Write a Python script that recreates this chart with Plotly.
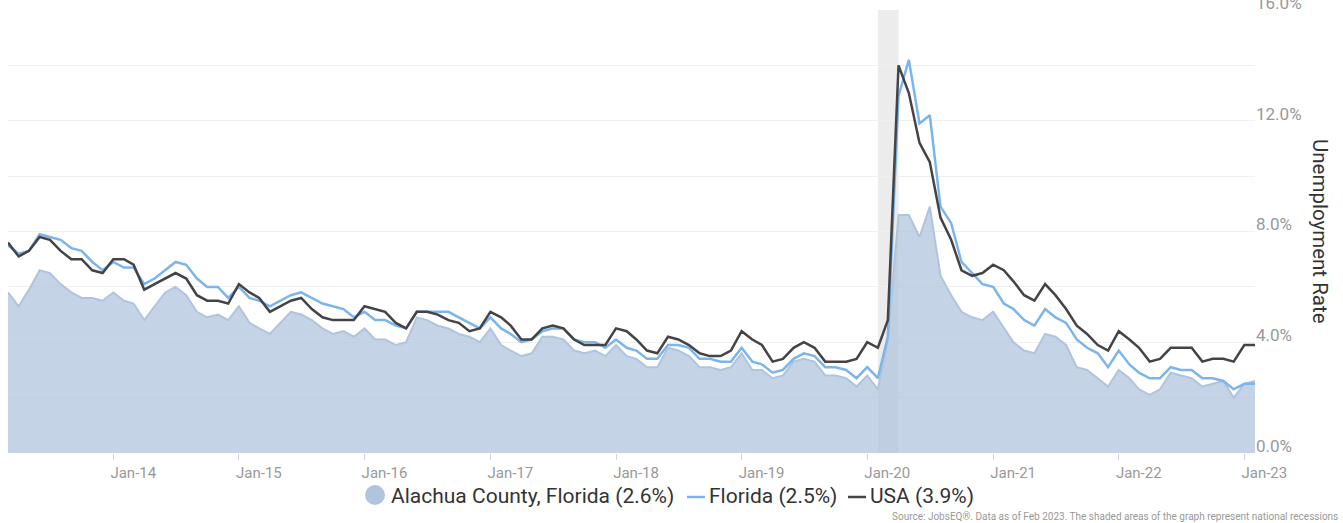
import pandas as pd
import plotly.graph_objects as go

# ---- data (monthly, Mar 2013 - Feb 2023) ----
start_month = "2013-03-01"
n_months = 120
months = pd.date_range(start_month, periods=n_months, freq="MS")

alachua = [
    5.8, 5.3, 5.9, 6.6, 6.5, 6.1, 5.8, 5.6, 5.6, 5.5,
    5.8, 5.5, 5.4, 4.8, 5.3, 5.8, 6.0, 5.7, 5.1, 4.9, 5.0, 4.8,
    5.3, 4.7, 4.5, 4.3, 4.7, 5.1, 5.0, 4.8, 4.5, 4.3, 4.4, 4.2,
    4.5, 4.1, 4.1, 3.9, 4.0, 4.9, 4.8, 4.6, 4.5, 4.3, 4.2, 4.0,
    4.5, 3.9, 3.7, 3.5, 3.6, 4.2, 4.2, 4.1, 3.7, 3.6, 3.7, 3.5,
    3.9, 3.5, 3.4, 3.1, 3.1, 3.8, 3.7, 3.5, 3.1, 3.1, 3.0, 3.1,
    3.6, 3.0, 3.0, 2.7, 2.8, 3.3, 3.4, 3.3, 2.8, 2.8, 2.7, 2.4,
    2.8, 2.3, 4.1, 8.6, 8.6, 7.8, 8.9, 6.4, 5.7, 5.1, 4.9, 4.8,
    5.1, 4.5, 4.0, 3.7, 3.6, 4.3, 4.2, 3.9, 3.1, 3.0, 2.7, 2.4,
    3.0, 2.7, 2.3, 2.1, 2.3, 2.9, 2.8, 2.7, 2.4, 2.5, 2.6, 2.0,
    2.5, 2.6,
]
florida = [
    7.5, 7.2, 7.3, 7.9, 7.8, 7.7, 7.4, 7.3, 6.9, 6.6,
    6.9, 6.7, 6.7, 6.1, 6.3, 6.6, 6.9, 6.8, 6.3, 6.0, 6.0, 5.6,
    6.0, 5.6, 5.5, 5.3, 5.5, 5.7, 5.8, 5.6, 5.4, 5.3, 5.2, 4.9,
    5.1, 4.8, 4.8, 4.6, 4.5, 5.1, 5.1, 5.1, 5.1, 4.9, 4.7, 4.5,
    4.9, 4.5, 4.3, 4.0, 4.1, 4.4, 4.5, 4.5, 4.1, 4.0, 4.0, 3.8,
    4.1, 3.8, 3.7, 3.4, 3.4, 3.9, 3.9, 3.8, 3.4, 3.4, 3.3, 3.3,
    3.8, 3.3, 3.2, 2.9, 3.0, 3.4, 3.6, 3.5, 3.1, 3.1, 3.0, 2.7,
    3.1, 2.7, 4.2, 12.9, 14.2, 11.9, 12.2, 8.9, 8.3, 6.9, 6.5, 6.1,
    6.0, 5.4, 5.2, 4.8, 4.6, 5.2, 4.9, 4.7, 4.1, 3.8, 3.6, 3.1,
    3.7, 3.2, 2.9, 2.7, 2.7, 3.1, 3.0, 3.0, 2.7, 2.7, 2.6, 2.3,
    2.5, 2.5,
]
usa = [
    7.6, 7.1, 7.3, 7.8, 7.7, 7.3, 7.0, 7.0, 6.6, 6.5,
    7.0, 7.0, 6.8, 5.9, 6.1, 6.3, 6.5, 6.3, 5.7, 5.5, 5.5, 5.4,
    6.1, 5.8, 5.6, 5.1, 5.3, 5.5, 5.6, 5.2, 4.9, 4.8, 4.8, 4.8,
    5.3, 5.2, 5.1, 4.7, 4.5, 5.1, 5.1, 5.0, 4.8, 4.7, 4.4, 4.5,
    5.1, 4.9, 4.6, 4.1, 4.1, 4.5, 4.6, 4.5, 4.1, 3.9, 3.9, 3.9,
    4.5, 4.4, 4.1, 3.7, 3.6, 4.2, 4.1, 3.9, 3.6, 3.5, 3.5, 3.7,
    4.4, 4.1, 3.9, 3.3, 3.4, 3.8, 4.0, 3.8, 3.3, 3.3, 3.3, 3.4,
    4.0, 3.8, 4.8, 14.0, 13.0, 11.2, 10.5, 8.5, 7.7, 6.6, 6.4, 6.5,
    6.8, 6.6, 6.2, 5.7, 5.5, 6.1, 5.7, 5.2, 4.6, 4.3, 3.9, 3.7,
    4.4, 4.1, 3.8, 3.3, 3.4, 3.8, 3.8, 3.8, 3.3, 3.4, 3.4, 3.3,
    3.9, 3.9,
]
recession_start = "2020-02-01"
recession_end = "2020-04-01"
y_ticks = [0, 4, 8, 12, 16]

names = [
    f"Alachua County, Florida ({alachua[-1]:.1f}%)",
    f"Florida ({florida[-1]:.1f}%)",
    f"USA ({usa[-1]:.1f}%)",
]

FONT = "Roboto"
AREA_LINE = "#b0c4de"
AREA_FILL = "rgba(176,196,222,0.75)"
FL_COLOR = "#7cb5ec"
US_COLOR = "#434348"

fig = go.Figure()
fig.add_trace(go.Scatter(x=months, y=alachua, mode="lines", fill="tozeroy",
                         line=dict(color=AREA_LINE, width=2), fillcolor=AREA_FILL,
                         name=names[0], showlegend=False))
fig.add_trace(go.Scatter(x=months, y=florida, mode="lines",
                         line=dict(color=FL_COLOR, width=2.5), name=names[1], showlegend=False))
fig.add_trace(go.Scatter(x=months, y=usa, mode="lines",
                         line=dict(color=US_COLOR, width=2.5), name=names[2], showlegend=False))

fig.add_vrect(x0=recession_start, x1=recession_end, fillcolor="#ececec",
              line_width=0, layer="below")

W, H = 1343, 523
PL, PR, PT, PB = 8, 1255, 10, 453          # plot area in pixels
ml, mr, mt, mb = PL, W - PR, PT, H - PB

def px(x):
    return (x - PL) / (PR - PL)

def py(y):
    return (PB - y) / (PB - PT)

# custom legend
leg_y = 496
fig.add_shape(type="circle", xref="paper", yref="paper",
              x0=px(365), x1=px(385), y0=py(505), y1=py(485),
              fillcolor=AREA_LINE, line_width=0)
fig.add_shape(type="line", xref="paper", yref="paper",
              x0=px(687), x1=px(705), y0=py(497), y1=py(497),
              line=dict(color=FL_COLOR, width=2.5))
fig.add_shape(type="line", xref="paper", yref="paper",
              x0=px(848), x1=px(866), y0=py(497), y1=py(497),
              line=dict(color=US_COLOR, width=2.5))
for xpos, txt in [(389, names[0]), (707, names[1]), (868, names[2])]:
    fig.add_annotation(xref="paper", yref="paper", x=px(xpos), y=py(leg_y),
                       text=txt, showarrow=False, xanchor="left", yanchor="middle",
                       font=dict(family=FONT, size=21, color="#333333"))

fig.add_annotation(xref="paper", yref="paper", x=px(1340), y=py(516),
                   text="Source: JobsEQ®. Data as of Feb 2023. The shaded areas of the graph represent national recessions",
                   showarrow=False, xanchor="right", yanchor="middle",
                   font=dict(family=FONT, size=10, color="#999999"))

fig.add_annotation(xref="paper", yref="paper", x=px(1320), y=py(231),
                   text="Unemployment Rate", textangle=90, showarrow=False,
                   xanchor="center", yanchor="middle",
                   font=dict(family=FONT, size=20.5, color="#333333"))

fig.update_layout(
    width=W, height=H,
    margin=dict(l=ml, r=mr, t=mt, b=mb, autoexpand=False),
    paper_bgcolor="white", plot_bgcolor="white",
    showlegend=False,
    font=dict(family=FONT),
    xaxis=dict(
        type="date", automargin=False,
        range=[months[0], months[-1]],
        tick0="2014-01-01", dtick="M12", tickformat="%b-%y",
        ticks="outside", ticklen=6, tickcolor="#ccd6eb", tickwidth=1,
        ticklabelshift=20,
        showgrid=False, showline=False, zeroline=False,
        tickfont=dict(family=FONT, size=15, color="#999999"),
    ),
    yaxis=dict(
        side="right", automargin=False,
        range=[0, 16],
        tickvals=y_ticks,
        ticktext=[f"{v:.1f}%" for v in y_ticks],
        ticklabelshift=-7,
        ticklabeloverflow="allow",
        showgrid=True, gridcolor="#f0f0f0", gridwidth=1,
        minor=dict(dtick=2, showgrid=True, gridcolor="#f0f0f0", gridwidth=1),
        zeroline=False, showline=False, ticks="",
        tickfont=dict(family=FONT, size=17, color="#999999"),
    ),
)

fig.write_html("out.html", config={"displayModeBar": False},
               post_script="document.body.style.margin='0';")
